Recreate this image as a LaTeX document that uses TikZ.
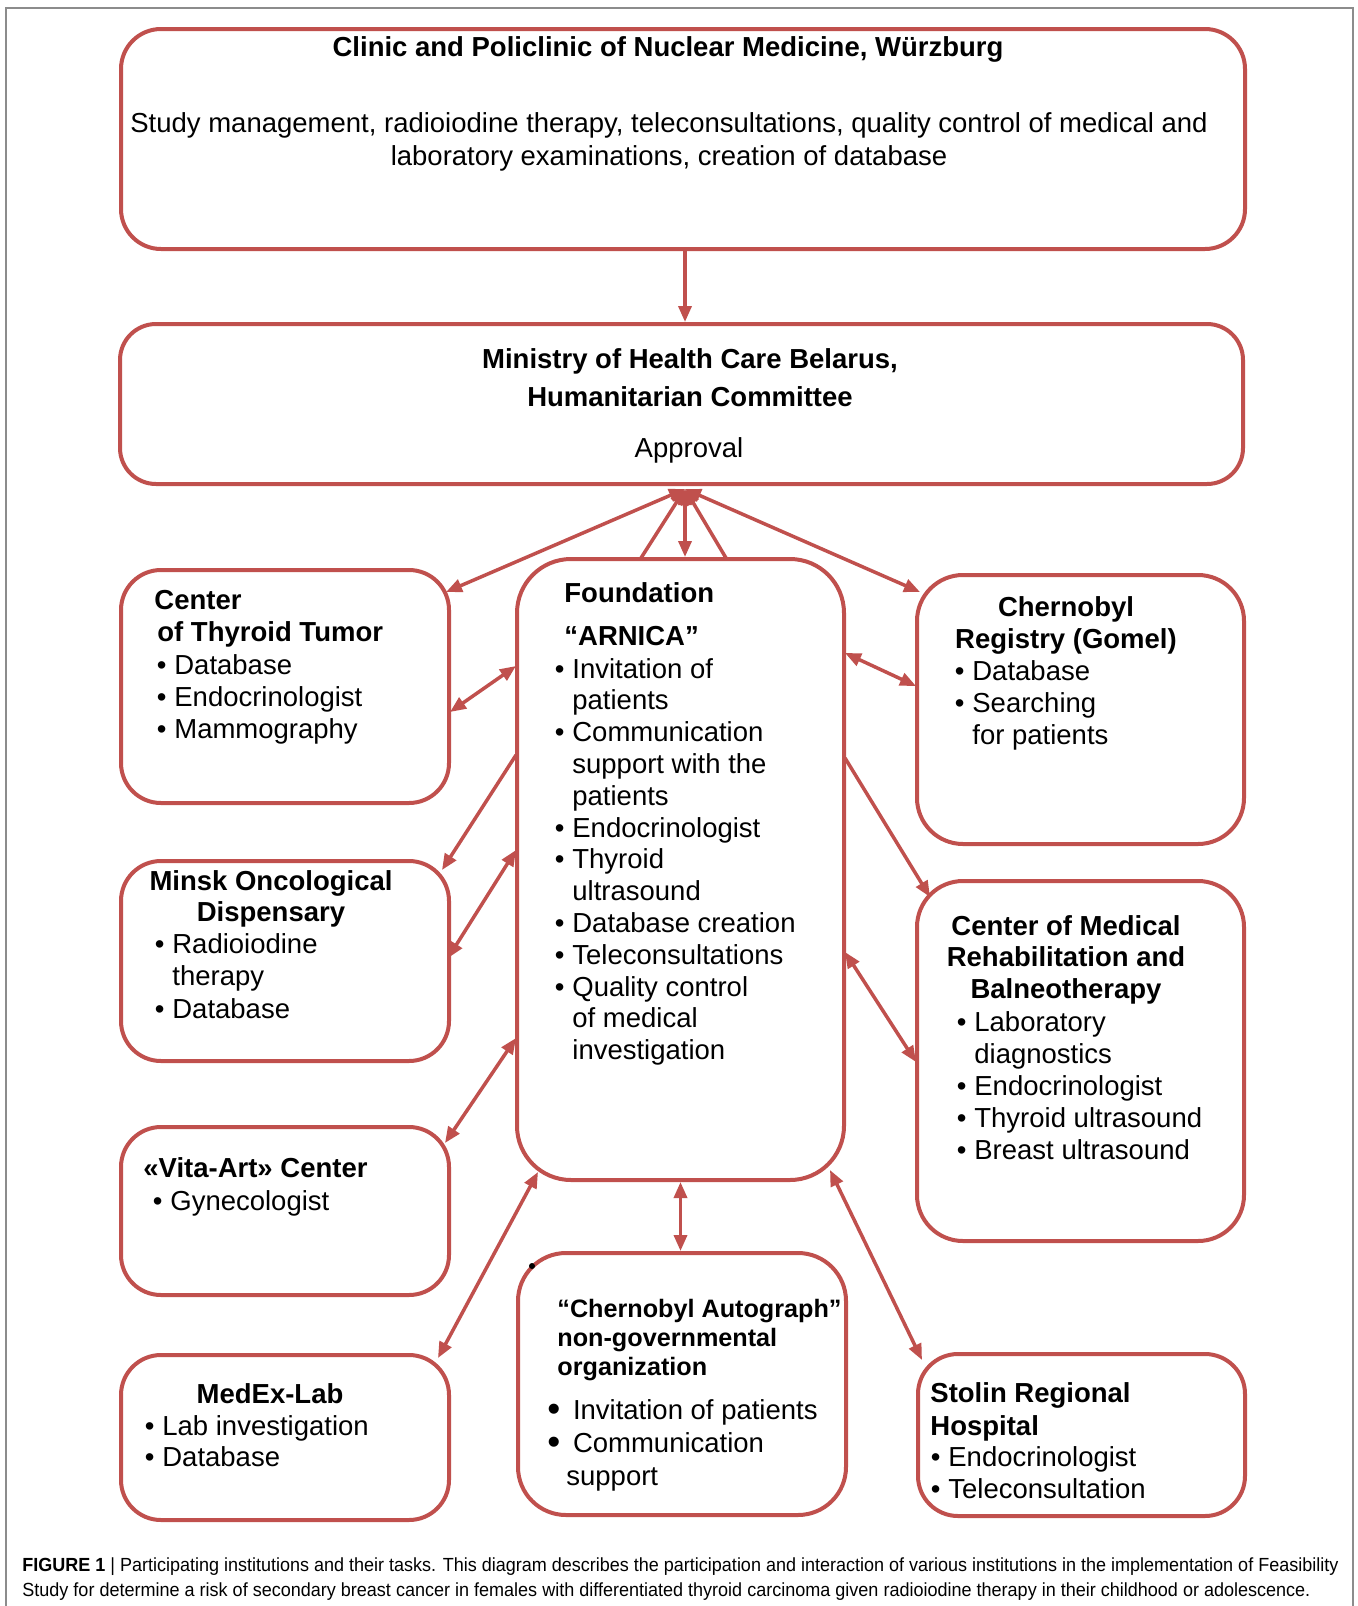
\documentclass[tikz,border=0pt]{standalone}
\usepackage{fontspec}
\setmainfont{Liberation Sans}
\usepackage{graphicx}
\usetikzlibrary{arrows.meta}
\definecolor{boxred}{RGB}{192,80,77}
\definecolor{framegray}{RGB}{140,140,140}
\newcommand\bul{\llap{\textbullet\hspace{4pt}}}
\newcommand\bigbul{\raisebox{-1.4pt}{\scalebox{1.35}{\textbullet}}}
\newcommand\tl[2][l]{\begin{tabular}[t]{@{}#1@{}}#2\end{tabular}}
\newcommand\fs[1]{\fontsize{13.75pt}{#1}\selectfont}
\begin{document}
\begin{tikzpicture}[x=0.5pt,y=-0.5pt,
  box/.style={draw=boxred, line width=2pt, rounded corners=20pt, inner sep=0pt, fill=white},
  tipa/.tip={Triangle[length=8pt,width=6.5pt]},
  arr/.style={draw=boxred, line width=1.75pt, -{tipa}, fill=none},
  dbl/.style={draw=boxred, line width=1.75pt, {tipa}-{tipa}},
  txt/.style={inner sep=0pt, anchor=base west, text=black},
  ctxt/.style={inner sep=0pt, anchor=base, text=black}]
\useasboundingbox (0,0) rectangle (1358,1606);
\fill[white] (0,0) rectangle (1358,1606);
\draw[framegray, line width=0.8pt] (6,1606) -- (6,8) -- (1353,8) -- (1353,1606);

% boxes
\node[box, minimum width=562pt, minimum height=110pt] (top) at (683,139) {};
\node[box, rounded corners=18pt, minimum width=561.5pt, minimum height=80pt] (min) at (681.5,404) {};
\node[box, rounded corners=27pt, minimum width=163.5pt, minimum height=310.5pt] (fnd) at (680.5,869.5) {};
\node[box, minimum width=164pt, minimum height=116.5pt] (thy) at (285,686.5) {};
\node[box, minimum width=164pt, minimum height=100pt] (msk) at (285,961) {};
\node[box, minimum width=164pt, minimum height=84pt] (vit) at (285,1211) {};
\node[box, minimum width=164pt, minimum height=82.5pt] (med) at (285,1437.5) {};
\node[box, rounded corners=24pt, minimum width=164pt, minimum height=131pt] (aut) at (682,1384) {};
\node[box, rounded corners=23pt, minimum width=163.5pt, minimum height=134.5pt] (reg) at (1080.5,709.5) {};
\node[box, rounded corners=23pt, minimum width=163.5pt, minimum height=180pt] (reh) at (1080.5,1061) {};
\node[box, minimum width=163.5pt, minimum height=81pt] (sto) at (1081.5,1435) {};

% texts
\node[ctxt, font=\fs{16pt}\bfseries] (top-t) at (668,56) {Clinic and Policlinic of Nuclear Medicine, Würzburg};
\node[ctxt, font=\fs{16.5pt}] (top-l) at (669,132) {\tl[c]{Study management, radioiodine therapy, teleconsultations, quality control of medical and\\laboratory examinations, creation of database}};

\node[ctxt, font=\fs{19pt}\bfseries] (min-t) at (690,368) {\tl[c]{Ministry of Health Care Belarus,\\Humanitarian Committee}};
\node[ctxt, font=\fs{16pt}] (min-l) at (689,457) {Approval};

\node[txt, font=\fs{21.5pt}\bfseries] (fnd-t) at (564,602) {\tl{Foundation\\“ARNICA”}};
\node[txt, font=\fs{15.9pt}] (fnd-l) at (572,678) {\tl{\bul Invitation of\\patients\\\bul Communication\\support with the\\patients\\\bul Endocrinologist\\\bul Thyroid\\ultrasound\\\bul Database creation\\\bul Teleconsultations\\\bul Quality control\\of medical\\investigation}};

\node[txt, font=\fs{16pt}\bfseries] (thy-t) at (154,609) {\tl{Center\\\hspace*{1.5pt}of Thyroid Tumor}};
\node[txt, font=\fs{16pt}] (thy-l) at (174,674) {\tl{\bul Database\\\bul Endocrinologist\\\bul Mammography}};

\node[ctxt, font=\fs{15.75pt}\bfseries] (msk-t) at (271,890) {\tl[c]{Minsk Oncological\\Dispensary}};
\node[txt, font=\fs{16.25pt}] (msk-l) at (172,953) {\tl{\bul Radioiodine\\therapy\\\bul Database}};

\node[txt, font=\fs{16pt}\bfseries] (vit-t) at (143,1177) {«Vita-Art» Center};
\node[txt, font=\fs{16pt}] (vit-l) at (170,1210) {\bul Gynecologist};

\node[ctxt, font=\fs{16pt}\bfseries] (med-t) at (270,1403) {MedEx-Lab};
\node[txt, font=\fs{15.5pt}] (med-l) at (162,1435) {\tl{\bul Lab investigation\\\bul Database}};

\node[txt, font=\fontsize{12.6pt}{14.5pt}\selectfont\bfseries] (aut-t) at (557,1317) {\tl{“Chernobyl Autograph”\\non-governmental\\organization}};
\node[txt, font=\fs{16.5pt}] (aut-l) at (547,1419) {\begin{tabular}[t]{@{}l@{\hspace{6.3pt}}l@{}}\bigbul & Invitation of patients\\\bigbul & Communication\\\multicolumn{2}{@{}l@{}}{\hspace*{9.5pt}support}\end{tabular}};
\fill[black] (532,1266) circle (1.5pt);

\node[ctxt, font=\fs{16pt}\bfseries] (reg-t) at (1066,616) {\tl[c]{Chernobyl\\Registry (Gomel)}};
\node[txt, font=\fs{16pt}] (reg-l) at (972,680) {\tl{\bul Database\\\bul Searching\\for patients}};

\node[ctxt, font=\fs{15.75pt}\bfseries] (reh-t) at (1066,935) {\tl[c]{Center of Medical\\Rehabilitation and\\Balneotherapy}};
\node[txt, font=\fs{16pt}] (reh-l) at (974,1031) {\tl{\bul Laboratory\\diagnostics\\\bul Endocrinologist\\\bul Thyroid ultrasound\\\bul Breast ultrasound}};

\node[txt, font=\fs{16.5pt}\bfseries] (sto-t) at (930,1402) {\tl{Stolin Regional\\Hospital}};
\node[txt, font=\fs{16pt}] (sto-l) at (948,1466) {\tl{\bul Endocrinologist\\\bul Teleconsultation}};

% caption
\node[txt] (cap1) at (22,1571) {\resizebox{658pt}{\height}{\fontsize{9.5pt}{11pt}\selectfont\textbf{FIGURE 1} | Participating institutions and their tasks. This diagram describes the participation and interaction of various institutions in the implementation of Feasibility}};
\node[txt] (cap2) at (22,1596) {\resizebox{644pt}{\height}{\fontsize{9.5pt}{11pt}\selectfont Study for determine a risk of secondary breast cancer in females with differentiated thyroid carcinoma given radioiodine therapy in their childhood or adolescence.}};

% connector points
\coordinate (hub) at (685,489);
\coordinate (thy-a) at (446,592);
\coordinate (fnd-b) at (641,558);
\coordinate (fnd-d) at (726,558);
\coordinate (reg-a) at (920,592);
\coordinate (fnd-w1) at (516,666);
\coordinate (thy-e1) at (450,712);
\coordinate (fnd-w2) at (516,755);
\coordinate (msk-ne) at (442,870);
\coordinate (fnd-w3) at (516,850);
\coordinate (msk-e) at (448,958);
\coordinate (fnd-w4) at (516,1038);
\coordinate (vit-ne) at (445,1143);
\coordinate (fnd-sw) at (538,1172);
\coordinate (med-ne) at (438,1358);
\coordinate (fnd-se) at (830,1170);
\coordinate (sto-nw) at (922,1360);
\coordinate (fnd-e1) at (845,653);
\coordinate (reg-w) at (916,686);
\coordinate (fnd-e2) at (845,758);
\coordinate (reh-nw) at (930,897);
\coordinate (fnd-e3) at (845,952);
\coordinate (reh-w) at (916,1062);

% connectors
\draw[arr] (top.south -| hub) -- (min.north -| hub);
\draw[dbl] (hub) -- (thy-a);
\draw[arr] (fnd-b) -- (hub);
\draw[dbl] (hub) -- (fnd.north -| hub);
\draw[arr] (fnd-d) -- (hub);
\draw[dbl] (hub) -- (reg-a);
\draw[dbl] (fnd-w1) -- (thy-e1);
\draw[arr] (fnd-w2) -- (msk-ne);
\draw[dbl] (msk-e) -- (fnd-w3);
\draw[dbl] (fnd-w4) -- (vit-ne);
\draw[dbl] (fnd-sw) -- (med-ne);
\draw[dbl] (fnd.south) -- (fnd.south |- aut.north);
\draw[dbl] (fnd-se) -- (sto-nw);
\draw[dbl] (fnd-e1) -- (reg-w);
\draw[arr] (fnd-e2) -- (reh-nw);
\draw[dbl] (fnd-e3) -- (reh-w);
\end{tikzpicture}
\end{document}
